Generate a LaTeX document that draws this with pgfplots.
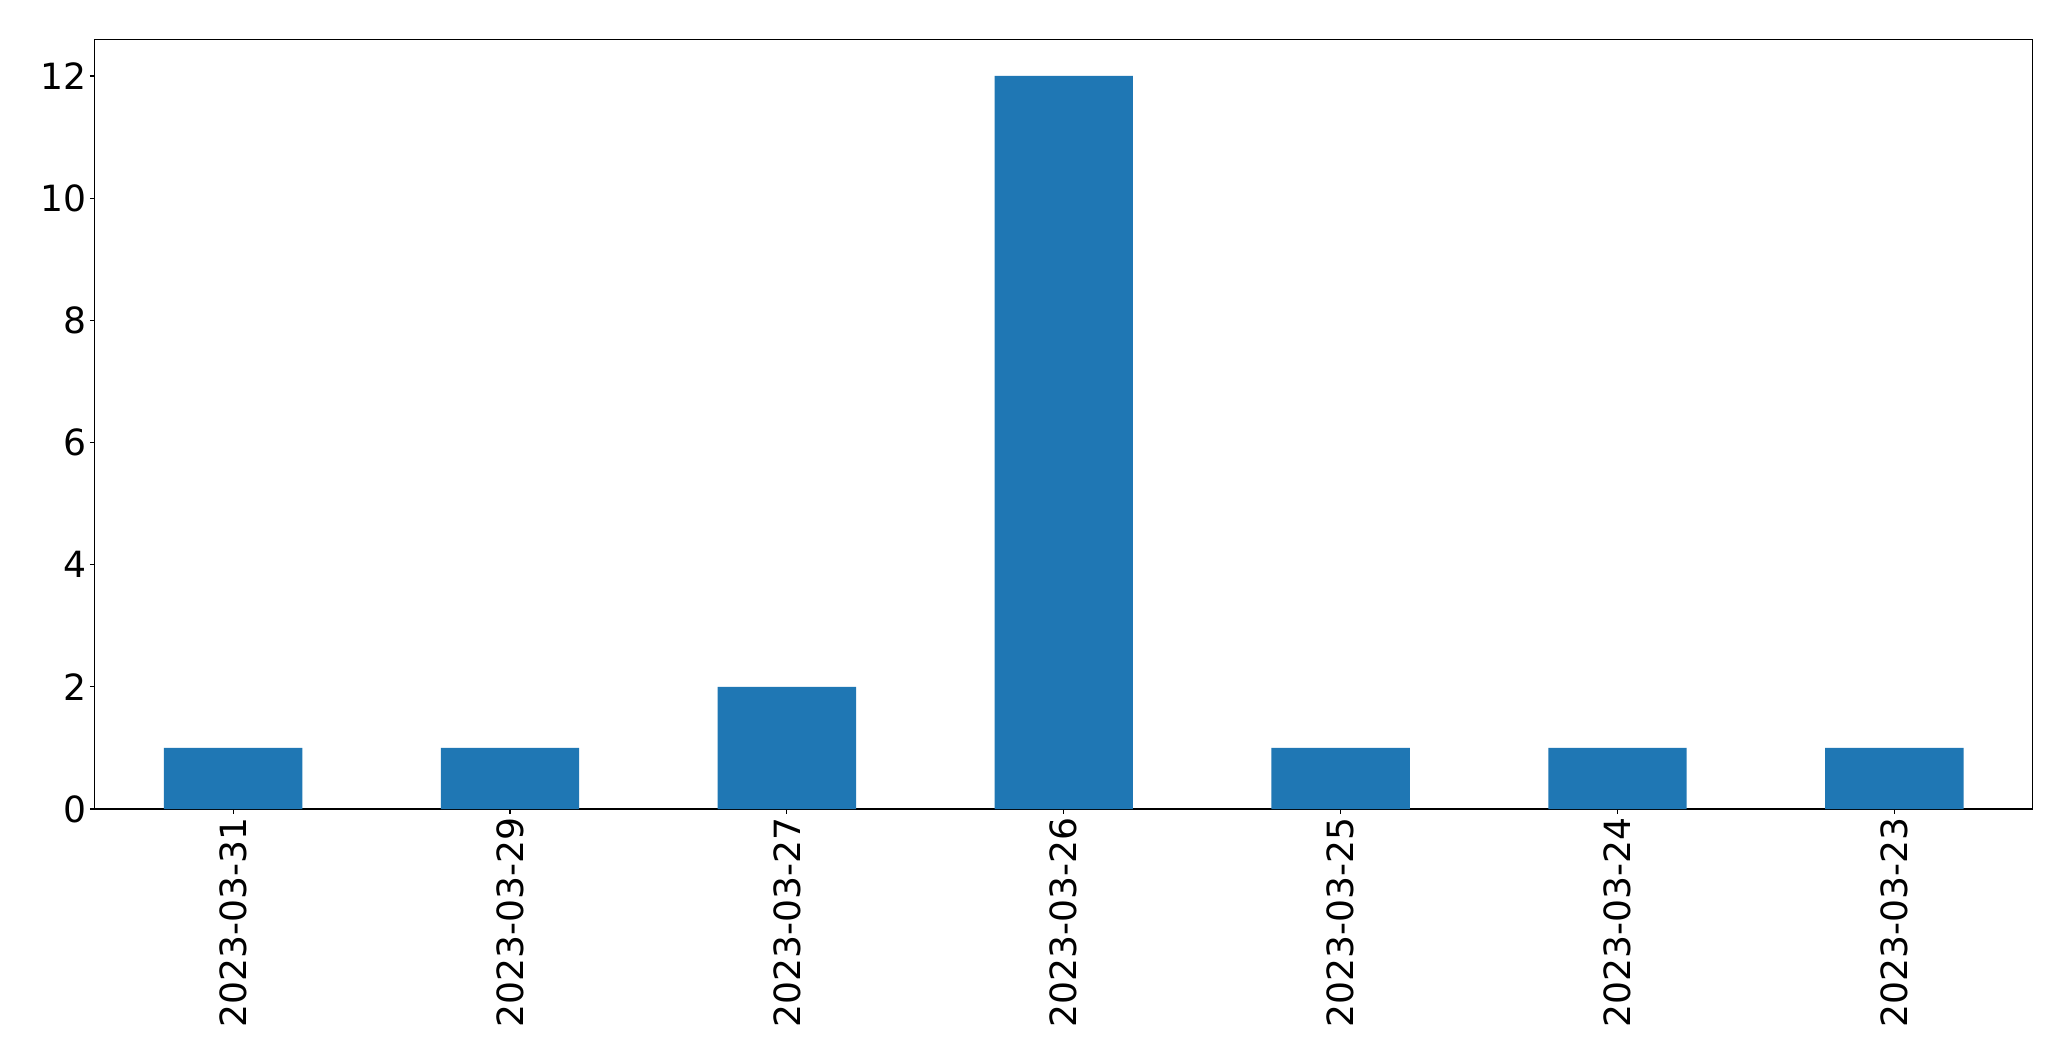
\documentclass[border=0pt]{standalone}
\usepackage{pgfplots}
\pgfplotsset{compat=1.18}
\usepackage{fontspec}
\setmainfont{DejaVu Sans}
\definecolor{barblue}{HTML}{1F77B4}
\begin{document}
\fontsize{26bp}{31bp}\selectfont
\begin{tikzpicture}
\path[use as bounding box] (0,0) rectangle (1491.1bp,763.9bp);
\begin{axis}[
  at={(68.2bp,181.4bp)}, anchor=south west,
  scale only axis, width=1395.4bp, height=554.2bp,
  xmin=-0.5, xmax=6.5, ymin=0, ymax=12.6,
  xtick={0,1,2,3,4,5,6},
  xticklabels={2023-03-31,2023-03-29,2023-03-27,2023-03-26,2023-03-25,2023-03-24,2023-03-23},
  ytick={0,2,4,6,8,10,12},
  tick align=outside, xtick pos=bottom, ytick pos=left,
  major tick length=3.5bp,
  tick style={black, line width=0.8bp},
  axis line style={line width=0.8bp},
  /pgf/number format/assume math mode=true,
  tick label style={font=\fontsize{26bp}{31bp}\selectfont},
  xticklabel style={rotate=90, anchor=east, inner sep=2.5bp},
  yticklabel style={inner sep=2.5bp},
  axis background/.style={fill=white},
]
\addplot[ybar, bar width=0.5, fill=barblue, draw=none] coordinates {
 (0,1) (1,1) (2,2) (3,12) (4,1) (5,1) (6,1)
};
\end{axis}
\end{tikzpicture}
\end{document}
